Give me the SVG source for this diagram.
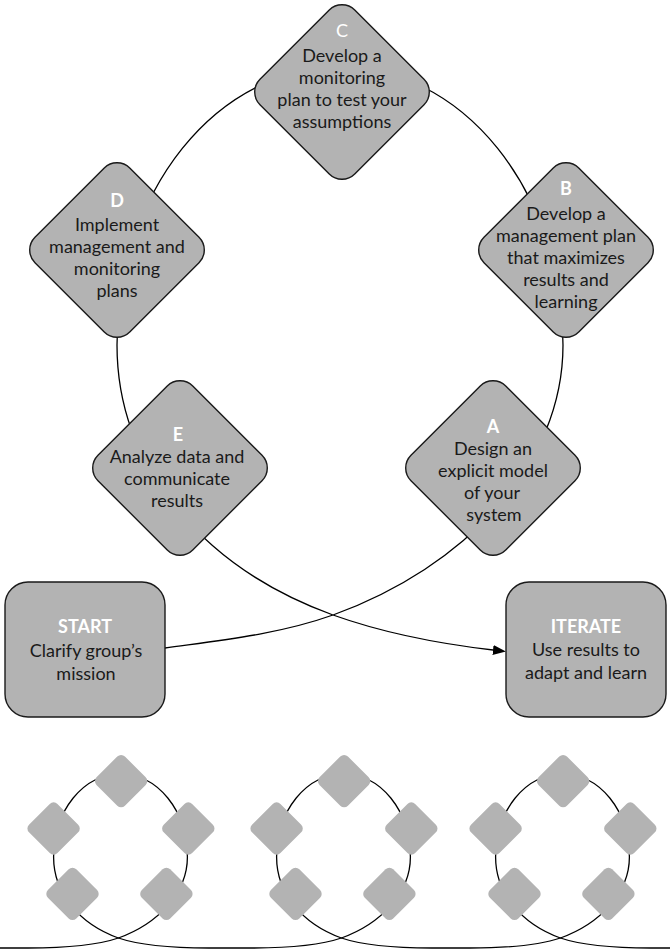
<svg xmlns="http://www.w3.org/2000/svg" width="670" height="949" viewBox="0 0 670 949">
<style>
.dia{fill:#b3b3b3;stroke:#1a1a1a;stroke-width:1.4}
.sdia{fill:#b3b3b3;stroke:none}
.box{fill:#b3b3b3;stroke:#1a1a1a;stroke-width:1.4}
.ln{fill:none;stroke:#000;stroke-width:1.3}
.sln{fill:none;stroke:#000;stroke-width:4.3}
.tl{fill:none;stroke:#000;stroke-width:1.3}
text{font-family:Lato,"Open Sans","DejaVu Sans",sans-serif;font-size:18px;fill:#1a1a1a;text-anchor:middle}
.hd{fill:#fff;font-weight:bold}
.hc{fill:#fff}
</style>
<defs>
<rect id="dia" x="-67" y="-67" width="134" height="134" rx="18" transform="rotate(45)"/>
<marker id="arr" markerUnits="userSpaceOnUse" markerWidth="14" markerHeight="11" refX="0" refY="5" orient="auto">
<path d="M0,0 L13,5 L0,10 z" fill="#000"/>
</marker>
<path id="loop" d="M333,615 C465,567 563,465 563,345 A223,278 0 0 0 340,67 A223,278 0 0 0 117,345 C117,465 201,567 333,615"/>
</defs>

<g id="connectors">
<path class="ln" d="M165,648 C215,641 277,635 333,615 C465,567 563,465 563,345 A223,278 0 0 0 340,67 A223,278 0 0 0 117,345 C117,465 201,567 333,615 C389,635 450,645 493,650" marker-end="url(#arr)"/>
</g>

<g id="nodeC">
<use href="#dia" x="342" y="92" class="dia"/>
<text x="342" y="37"><tspan class="hc">C</tspan><tspan x="342" y="62">Develop a</tspan><tspan x="342" y="84">monitoring</tspan><tspan x="342" y="106">plan to test your</tspan><tspan x="342" y="128">assumptions</tspan></text>
</g>

<g id="nodeB">
<use href="#dia" x="566" y="250" class="dia"/>
<text x="566" y="195"><tspan class="hd">B</tspan><tspan x="566" y="220">Develop a</tspan><tspan x="566" y="242">management plan</tspan><tspan x="566" y="264">that maximizes</tspan><tspan x="566" y="286">results and</tspan><tspan x="566" y="308">learning</tspan></text>
</g>

<g id="nodeD">
<use href="#dia" x="117" y="250" class="dia"/>
<text x="117" y="207"><tspan class="hd">D</tspan><tspan x="117" y="231">Implement</tspan><tspan x="117" y="253">management and</tspan><tspan x="117" y="275">monitoring</tspan><tspan x="117" y="297">plans</tspan></text>
</g>

<g id="nodeE">
<use href="#dia" x="180" y="468" class="dia"/>
<text x="178" y="441"><tspan class="hd">E</tspan><tspan x="177" y="463">Analyze data and</tspan><tspan x="177" y="485">communicate</tspan><tspan x="177" y="507">results</tspan></text>
</g>

<g id="nodeA">
<use href="#dia" x="493" y="468" class="dia"/>
<text x="493" y="433"><tspan class="hd">A</tspan><tspan x="493" y="455">Design an</tspan><tspan x="493" y="477">explicit model</tspan><tspan x="492" y="499">of your</tspan><tspan x="494" y="521">system</tspan></text>
</g>

<g id="start">
<rect class="box" x="5" y="582" width="160" height="135" rx="23"/>
<text x="85" y="633"><tspan class="hd">START</tspan><tspan x="86" y="657">Clarify group’s</tspan><tspan x="86" y="680">mission</tspan></text>
</g>

<g id="iterate">
<rect class="box" x="506" y="582" width="160" height="135" rx="23"/>
<text x="586" y="633"><tspan class="hd">ITERATE</tspan><tspan x="586" y="656">Use results to</tspan><tspan x="586" y="679">adapt and learn</tspan></text>
</g>

<g id="icons">
<path class="tl" d="M0,948 L28,948 C68,948 98,945 118.4,938 C138.8,945 168.8,948 208.8,948 L251,948 C291,948 321,945 341.4,938 C361.8,945 391.8,948 431.8,948 L470,948 C510,948 540,945 560.4,938 C580.8,945 610.8,948 650.8,948 L670,948"/>
<g id="icon1" transform="translate(18.5,753.5) scale(0.3)">
<use href="#loop" class="sln"/>
<use href="#dia" x="342" y="92" class="sdia"/>
<use href="#dia" x="566" y="250" class="sdia"/>
<use href="#dia" x="117" y="250" class="sdia"/>
<use href="#dia" x="180" y="468" class="sdia"/>
<use href="#dia" x="493" y="468" class="sdia"/>
</g>
<g id="icon2" transform="translate(241.5,753.5) scale(0.3)">
<use href="#loop" class="sln"/>
<use href="#dia" x="342" y="92" class="sdia"/>
<use href="#dia" x="566" y="250" class="sdia"/>
<use href="#dia" x="117" y="250" class="sdia"/>
<use href="#dia" x="180" y="468" class="sdia"/>
<use href="#dia" x="493" y="468" class="sdia"/>
</g>
<g id="icon3" transform="translate(460.5,753.5) scale(0.3)">
<use href="#loop" class="sln"/>
<use href="#dia" x="342" y="92" class="sdia"/>
<use href="#dia" x="566" y="250" class="sdia"/>
<use href="#dia" x="117" y="250" class="sdia"/>
<use href="#dia" x="180" y="468" class="sdia"/>
<use href="#dia" x="493" y="468" class="sdia"/>
</g>
</g>
</svg>
